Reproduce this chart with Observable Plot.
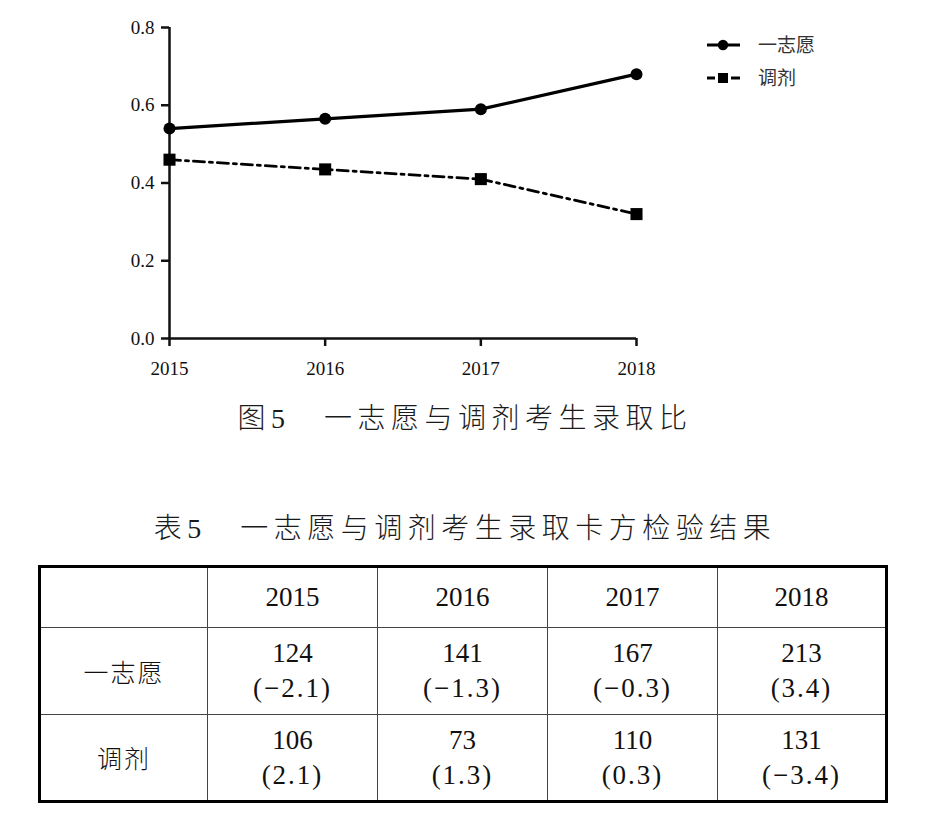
<!DOCTYPE html>
<html><head><meta charset="utf-8">
<script src="https://cdn.jsdelivr.net/npm/d3@7"></script>
<script src="https://cdn.jsdelivr.net/npm/@observablehq/plot@0.6"></script>
<style>
body{margin:0;background:#fff;width:930px;height:817px;position:relative;overflow:hidden;}
#chart{position:absolute;left:0;top:0;}
#legend{position:absolute;left:0;top:0;}
.cap{position:absolute;left:0;width:930px;text-align:center;font-family:"Liberation Serif","Noto Sans CJK SC";font-size:28px;font-weight:300;letter-spacing:5.5px;color:#1a1a1a;line-height:1;}
#tbl{position:absolute;left:38px;top:565px;width:850px;height:238px;box-sizing:border-box;border:3px solid #000;display:grid;
 grid-template-columns:167px 170px 170px 170px 167px;grid-template-rows:60px 87px 85px;}
#tbl div{box-sizing:border-box;border-right:1px solid #444;border-bottom:1px solid #444;display:flex;flex-direction:column;align-items:center;justify-content:center;
 font-family:"Liberation Serif";font-size:27px;color:#111;line-height:35px;}
#tbl div.lastc{border-right:none;}
#tbl div.lastr{border-bottom:none;}
#tbl div.lab{font-family:"Noto Sans CJK SC";font-weight:300;font-size:25px;letter-spacing:2px;}
#tbl span.par{letter-spacing:2px;}
</style></head>
<body>
<div id="chart"></div>
<svg id="legend" width="930" height="120"></svg>
<div class="cap" id="cap1" style="top:405px"></div>
<div class="cap" id="cap2" style="top:515px"></div>
<div id="tbl"></div>
<script>
const years = [2015, 2016, 2017, 2018];
const seriesNames = ["一志愿", "调剂"];
const firstChoice = [0.54, 0.565, 0.59, 0.68];
const adjusted = [0.46, 0.435, 0.41, 0.32];
const yTicks = [0, 0.2, 0.4, 0.6, 0.8];
const figCaption = "图5　一志愿与调剂考生录取比";
const tableCaption = "表5　一志愿与调剂考生录取卡方检验结果";
const firstCounts = [124, 141, 167, 213];
const firstResid = [-2.1, -1.3, -0.3, 3.4];
const adjCounts = [106, 73, 110, 131];
const adjResid = [2.1, 1.3, 0.3, -3.4];

const d1 = years.map((y, i) => ({year: y, v: firstChoice[i]}));
const d2 = years.map((y, i) => ({year: y, v: adjusted[i]}));

const chart = Plot.plot({
  width: 930, height: 390,
  marginLeft: 169, marginRight: 294, marginTop: 27, marginBottom: 52,
  x: {domain: [2015, 2018]},
  y: {domain: [0, 0.8]},
  style: {fontFamily: "Liberation Serif", fontSize: "19px", color: "#111", background: "transparent"},
  marks: [
    Plot.axisY({ticks: yTicks, tickFormat: d => d.toFixed(1), tickSize: 8, tickPadding: 7, strokeWidth: 2.5, label: null, fontSize: 19}),
    Plot.axisX({ticks: years, tickFormat: d => String(d), tickSize: 8, tickPadding: 15, strokeWidth: 2.5, label: null, fontSize: 19}),
    Plot.ruleX([years[0]], {y1: yTicks[0], y2: yTicks[yTicks.length - 1], strokeWidth: 2.5}),
    Plot.ruleY([yTicks[0]], {x1: years[0], x2: years[years.length - 1], strokeWidth: 2.5}),
    Plot.line(d1, {x: "year", y: "v", stroke: "#000", strokeWidth: 3.2}),
    Plot.line(d2, {x: "year", y: "v", stroke: "#000", strokeWidth: 2.8, strokeDasharray: "11,5,3,5"}),
    Plot.dot(d1, {x: "year", y: "v", r: 6, fill: "#000", symbol: "circle"}),
    Plot.dot(d2, {x: "year", y: "v", r: 6.8, fill: "#000", symbol: "square"})
  ]
});
document.getElementById("chart").appendChild(chart);

// legend
const lg = d3.select("#legend");
const rows = [45, 78];
seriesNames.forEach((name, i) => {
  const y = rows[i];
  if (i === 0) {
    lg.append("line").attr("x1", 707).attr("x2", 740).attr("y1", y).attr("y2", y).attr("stroke", "#000").attr("stroke-width", 3);
    lg.append("circle").attr("cx", 723).attr("cy", y).attr("r", 5.2).attr("fill", "#000");
  } else {
    lg.append("line").attr("x1", 707).attr("x2", 715).attr("y1", y).attr("y2", y).attr("stroke", "#000").attr("stroke-width", 3);
    lg.append("line").attr("x1", 731).attr("x2", 740).attr("y1", y).attr("y2", y).attr("stroke", "#000").attr("stroke-width", 3);
    lg.append("rect").attr("x", 718).attr("y", y - 5).attr("width", 10).attr("height", 10).attr("fill", "#000");
  }
  lg.append("text").attr("x", 758).attr("y", y).attr("dy", "0.35em").text(name)
    .attr("font-family", "Noto Sans CJK SC").attr("font-size", 19).attr("fill", "#333");
});

document.getElementById("cap1").textContent = figCaption;
document.getElementById("cap2").textContent = tableCaption;

// table
const tbl = document.getElementById("tbl");
const fmt = v => "(" + (v < 0 ? "\u2212" + Math.abs(v).toFixed(1) : v.toFixed(1)) + ")";
function cell(html, cls) {
  const d = document.createElement("div");
  d.className = cls || "";
  d.innerHTML = html;
  tbl.appendChild(d);
}
cell("", "");
years.forEach((y, i) => cell(String(y), i === years.length - 1 ? "lastc" : ""));
const body = [[seriesNames[0], firstCounts, firstResid], [seriesNames[1], adjCounts, adjResid]];
body.forEach((r, ri) => {
  const last = ri === body.length - 1 ? " lastr" : "";
  cell(r[0], "lab" + last);
  years.forEach((y, i) => cell("<span>" + r[1][i] + "</span><span class='par'>" + fmt(r[2][i]) + "</span>",
    (i === years.length - 1 ? "lastc" : "") + last));
});
</script>
</body></html>
